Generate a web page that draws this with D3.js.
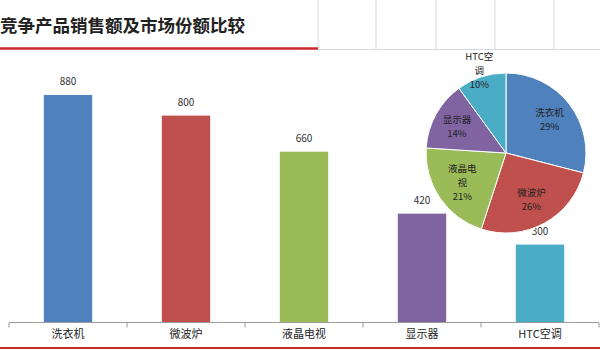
<!DOCTYPE html>
<html>
<head>
<meta charset="utf-8">
<script src="https://cdn.jsdelivr.net/npm/d3@7/dist/d3.min.js"></script>
<style>
  html, body { margin: 0; padding: 0; background: #fff; }
  svg { display: block; font-family: "Noto Sans CJK SC", "Noto Sans", sans-serif; }
</style>
</head>
<body>
<svg id="chart" width="600" height="350"></svg>
<script>
// Sales by product
const categories = ["洗衣机", "微波炉", "液晶电视", "显示器", "HTC空调"];
const sales = [880, 800, 660, 420, 300];
// Market share (%) per product
const shares = [29, 26, 21, 14, 10];
const colors = ["#4F81BD", "#C0504D", "#9BBB59", "#8064A2", "#4BACC6"];
// Pie labels split across lines as they wrap inside the slices
const pieLabelLines = [["洗衣机"], ["微波炉"], ["液晶电", "视"], ["显示器"], ["HTC空", "调"]];

const svg = d3.select("#chart");
const W = 600;

// Header: title, red underline, grid cells on the right
svg.append("text")
  .attr("x", 0).attr("y", 32)
  .attr("font-size", 17.5).attr("font-weight", "bold").attr("fill", "#222")
  .text("竞争产品销售额及市场份额比较");

const cellX = [318, 376, 436, 495, 554];
svg.selectAll("line.cell").data(cellX).join("line")
  .attr("class", "cell")
  .attr("x1", d => d).attr("x2", d => d)
  .attr("y1", 0).attr("y2", 49)
  .attr("stroke", "#d4d8e0").attr("stroke-width", 1);
svg.append("line")
  .attr("x1", 318).attr("x2", W).attr("y1", 49.5).attr("y2", 49.5)
  .attr("stroke", "#d4d8e0").attr("stroke-width", 1);
svg.append("line")
  .attr("x1", 0).attr("x2", 318).attr("y1", 48.5).attr("y2", 48.5)
  .attr("stroke", "#c8282a").attr("stroke-width", 2.5);

// Footer rule
svg.append("line")
  .attr("x1", 0).attr("x2", W).attr("y1", 348).attr("y2", 348)
  .attr("stroke", "#c8282a").attr("stroke-width", 2);

// Bar chart
const x = d3.scaleBand().domain(categories).range([9, 599]).paddingInner(0.59).paddingOuter(0.295);
const y = d3.scaleLinear().domain([0, 1000]).range([322, 64]);

const bars = svg.append("g");
bars.selectAll("rect").data(categories).join("rect")
  .attr("x", d => x(d))
  .attr("width", x.bandwidth())
  .attr("y", (d, i) => y(sales[i]))
  .attr("height", (d, i) => y(0) - y(sales[i]))
  .attr("fill", (d, i) => colors[i]);

bars.selectAll("text").data(categories).join("text")
  .attr("x", d => x(d) + x.bandwidth() / 2)
  .attr("y", (d, i) => y(sales[i]) - 10)
  .attr("text-anchor", "middle")
  .attr("font-size", 10).attr("fill", "#333")
  .text((d, i) => sales[i]);

// Category axis with tick marks between categories
const axisG = svg.append("g").attr("transform", "translate(0,322.5)");
axisG.append("line")
  .attr("x1", 9).attr("x2", 599).attr("stroke", "#9a9a9a");
const step = x.step();
const tickPos = d3.range(categories.length + 1).map(i => 9 + i * step);
axisG.selectAll("line.tick").data(tickPos).join("line")
  .attr("class", "tick")
  .attr("x1", d => d).attr("x2", d => d).attr("y1", 0).attr("y2", 5)
  .attr("stroke", "#9a9a9a");
axisG.selectAll("text").data(categories).join("text")
  .attr("x", d => x(d) + x.bandwidth() / 2)
  .attr("y", 15)
  .attr("text-anchor", "middle")
  .attr("font-size", 11).attr("fill", "#222")
  .text(d => d);

// Market share pie
const pie = d3.pie().sort(null).value(d => d);
const arcs = pie(shares);
const R = 80;
const arc = d3.arc().innerRadius(0).outerRadius(R);
const pieG = svg.append("g").attr("transform", "translate(506,153)");
pieG.selectAll("path").data(arcs).join("path")
  .attr("d", arc)
  .attr("fill", (d, i) => colors[i])
  .attr("stroke", "#fff").attr("stroke-width", 1);

// Label anchors: radius fraction per slice
const labelR = [0.69, 0.66, 0.66, 0.7, 1.08];
const lh = 14;
pieG.selectAll("g.lbl").data(arcs).join("g")
  .attr("class", "lbl")
  .attr("transform", (d, i) => {
    const a = (d.startAngle + d.endAngle) / 2;
    const r = R * labelR[i];
    return `translate(${Math.sin(a) * r},${-Math.cos(a) * r})`;
  })
  .each(function (d, i) {
    const lines = pieLabelLines[i].concat([shares[i] + "%"]);
    const y0 = -((lines.length - 1) * lh) / 2 + 3.5;
    d3.select(this).selectAll("text").data(lines).join("text")
      .attr("x", 0).attr("y", (s, k) => y0 + k * lh)
      .attr("text-anchor", "middle")
      .attr("font-size", 9.5).attr("fill", "#222")
      .text(s => s);
  });
</script>
</body>
</html>
